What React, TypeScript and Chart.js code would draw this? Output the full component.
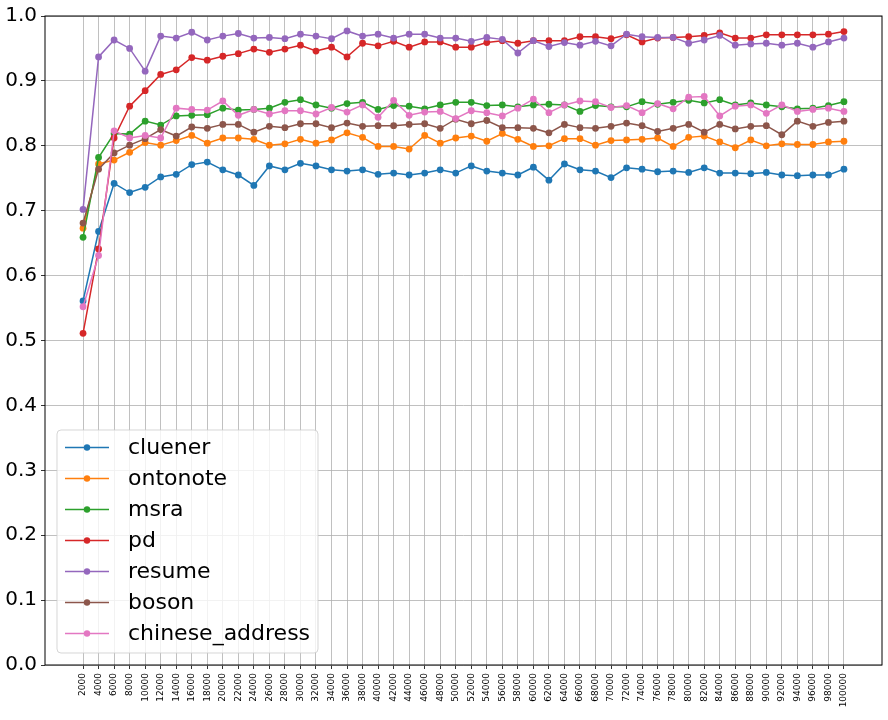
import { Chart, registerables, type Plugin } from 'chart.js'
import { useEffect, useRef } from 'react'

Chart.register(...registerables)

const steps = [
  2000, 4000, 6000, 8000, 10000, 12000, 14000, 16000, 18000, 20000, 22000, 24000, 26000, 28000, 30000, 32000, 34000,
  36000, 38000, 40000, 42000, 44000, 46000, 48000, 50000, 52000, 54000, 56000, 58000, 60000, 62000, 64000, 66000,
  68000, 70000, 72000, 74000, 76000, 78000, 80000, 82000, 84000, 86000, 88000, 90000, 92000, 94000, 96000, 98000,
  100000,
]

const yTicks = [0, 0.1, 0.2, 0.3, 0.4, 0.5, 0.6, 0.7, 0.8, 0.9, 1.0]

const cluener = [
  0.561, 0.668, 0.742, 0.728, 0.736, 0.752, 0.756, 0.771, 0.775, 0.763, 0.755, 0.739, 0.769, 0.763, 0.773, 0.769, 0.763,
  0.761, 0.763, 0.756, 0.758, 0.755, 0.758, 0.763, 0.758, 0.769, 0.761, 0.758, 0.755, 0.767, 0.747, 0.772, 0.763, 0.761,
  0.751, 0.766, 0.764, 0.76, 0.761, 0.759, 0.766, 0.758, 0.758, 0.757, 0.759, 0.755, 0.754, 0.755, 0.755, 0.764,
]
const ontonote = [
  0.673, 0.772, 0.778, 0.79, 0.805, 0.801, 0.808, 0.816, 0.804, 0.812, 0.812, 0.81, 0.801, 0.803, 0.81, 0.804, 0.809,
  0.82, 0.813, 0.799, 0.799, 0.795, 0.816, 0.804, 0.812, 0.815, 0.807, 0.819, 0.81, 0.799, 0.8, 0.811, 0.811, 0.801,
  0.808, 0.809, 0.81, 0.812, 0.799, 0.813, 0.815, 0.806, 0.797, 0.809, 0.8, 0.803, 0.802, 0.802, 0.806, 0.807,
]
const msra = [
  0.659, 0.782, 0.819, 0.818, 0.838, 0.832, 0.846, 0.847, 0.848, 0.858, 0.855, 0.856, 0.858, 0.867, 0.871, 0.863, 0.858,
  0.865, 0.867, 0.856, 0.862, 0.861, 0.857, 0.863, 0.867, 0.867, 0.862, 0.863, 0.86, 0.863, 0.864, 0.863, 0.853, 0.862,
  0.86, 0.86, 0.868, 0.864, 0.867, 0.87, 0.866, 0.871, 0.863, 0.866, 0.863, 0.86, 0.857, 0.858, 0.862, 0.868,
]
const pd = [
  0.511, 0.641, 0.812, 0.861, 0.885, 0.91, 0.917, 0.936, 0.932, 0.938, 0.942, 0.949, 0.944, 0.949, 0.955, 0.946, 0.952,
  0.937, 0.958, 0.954, 0.961, 0.952, 0.96, 0.96, 0.952, 0.952, 0.959, 0.962, 0.958, 0.962, 0.962, 0.962, 0.968, 0.968,
  0.965, 0.971, 0.96, 0.966, 0.967, 0.968, 0.97, 0.974, 0.966, 0.966, 0.971, 0.971, 0.971, 0.971, 0.972, 0.976,
]
const resume = [
  0.702, 0.937, 0.963, 0.95, 0.915, 0.969, 0.966, 0.975, 0.963, 0.969, 0.973, 0.966, 0.967, 0.965, 0.972, 0.969, 0.965,
  0.977, 0.969, 0.972, 0.966, 0.972, 0.972, 0.966, 0.966, 0.961, 0.967, 0.964, 0.943, 0.962, 0.953, 0.959, 0.955, 0.961,
  0.954, 0.972, 0.968, 0.967, 0.967, 0.958, 0.963, 0.97, 0.955, 0.957, 0.958, 0.955, 0.958, 0.952, 0.96, 0.966,
]
const boson = [
  0.681, 0.764, 0.789, 0.801, 0.811, 0.825, 0.815, 0.829, 0.827, 0.833, 0.833, 0.821, 0.83, 0.828, 0.834, 0.834, 0.828,
  0.835, 0.83, 0.831, 0.831, 0.833, 0.834, 0.827, 0.841, 0.834, 0.839, 0.828, 0.828, 0.827, 0.82, 0.833, 0.828, 0.827,
  0.83, 0.835, 0.831, 0.822, 0.827, 0.833, 0.821, 0.833, 0.826, 0.83, 0.831, 0.817, 0.838, 0.83, 0.836, 0.838,
]
const chineseAddress = [
  0.552, 0.631, 0.823, 0.812, 0.816, 0.812, 0.858, 0.856, 0.855, 0.869, 0.847, 0.856, 0.849, 0.854, 0.854, 0.849, 0.859,
  0.852, 0.863, 0.844, 0.87, 0.847, 0.852, 0.853, 0.842, 0.854, 0.851, 0.846, 0.858, 0.872, 0.851, 0.863, 0.869, 0.868,
  0.859, 0.862, 0.851, 0.865, 0.857, 0.875, 0.876, 0.846, 0.861, 0.863, 0.85, 0.863, 0.853, 0.856, 0.858, 0.853,
]

const seriesNames = ['cluener', 'ontonote', 'msra', 'pd', 'resume', 'boson', 'chinese_address']
const seriesValues = [cluener, ontonote, msra, pd, resume, boson, chineseAddress]
const seriesColors = ['#1f77b4', '#ff7f0e', '#2ca02c', '#d62728', '#9467bd', '#8c564b', '#e377c2']

const FONT = 'DejaVu Sans'

// matplotlib-style frame + legend sitting inside the axes
const framePlugin: Plugin<'line'> = {
  id: 'mplFrame',
  afterDatasetsDraw(chart) {
    const { ctx, chartArea } = chart
    ctx.save()
    ctx.strokeStyle = '#000'
    ctx.lineWidth = 1
    ctx.strokeRect(chartArea.left, chartArea.top, chartArea.right - chartArea.left, chartArea.bottom - chartArea.top)
    ctx.restore()
  },
  afterDraw(chart) {
    const { ctx, chartArea } = chart
    const x0 = chartArea.left + 12
    const w = 261
    const h = 223
    const y0 = chartArea.bottom - 12 - h
    ctx.save()
    ctx.beginPath()
    ctx.roundRect(x0, y0, w, h, 4)
    ctx.fillStyle = 'rgba(255,255,255,0.8)'
    ctx.fill()
    ctx.strokeStyle = 'rgba(204,204,204,0.8)'
    ctx.lineWidth = 1
    ctx.stroke()
    ctx.font = `22px "${FONT}"`
    ctx.textBaseline = 'middle'
    ctx.textAlign = 'left'
    seriesNames.forEach((name, i) => {
      const y = y0 + 17.5 + i * 31
      ctx.strokeStyle = seriesColors[i]
      ctx.lineWidth = 1.5
      ctx.beginPath()
      ctx.moveTo(x0 + 8, y)
      ctx.lineTo(x0 + 52, y)
      ctx.stroke()
      ctx.fillStyle = seriesColors[i]
      ctx.beginPath()
      ctx.arc(x0 + 30, y, 3.2, 0, Math.PI * 2)
      ctx.fill()
      ctx.fillStyle = '#000'
      ctx.fillText(name, x0 + 71, y + 1)
    })
    ctx.restore()
  },
}

export default function App() {
  const canvasRef = useRef<HTMLCanvasElement | null>(null)

  useEffect(() => {
    const canvas = canvasRef.current
    if (!canvas) {
      return
    }

    const chart = new Chart(canvas, {
      type: 'line',
      data: {
        datasets: seriesNames.map((name, i) => ({
          label: name,
          data: steps.map((x, j) => ({ x, y: seriesValues[i][j] })),
          borderColor: seriesColors[i],
          backgroundColor: seriesColors[i],
          pointBackgroundColor: seriesColors[i],
          pointBorderWidth: 0,
          pointRadius: 3.4,
          borderWidth: 1.5,
          tension: 0,
          order: seriesNames.length - 1 - i,
        })),
      },
      plugins: [framePlugin],
      options: {
        animation: false,
        responsive: false,
        layout: { padding: { top: 13, right: 6, left: 0, bottom: 0 } },
        plugins: {
          legend: { display: false },
          tooltip: { enabled: false },
        },
        scales: {
          x: {
            type: 'linear',
            min: 2000 - 4900,
            max: 100000 + 4900,
            afterBuildTicks: (scale) => {
              scale.ticks = steps.map((v) => ({ value: v }))
            },
            afterFit: (scale) => {
              scale.height = 55
            },
            ticks: {
              autoSkip: false,
              minRotation: 90,
              maxRotation: 90,
              color: '#000',
              padding: 4,
              font: { family: FONT, size: 9 },
              callback: (v) => String(v),
            },
            grid: {
              color: '#b0b0b0',
              lineWidth: 0.8,
              tickColor: '#000',
              tickLength: 4,
              tickWidth: 0.8,
            },
            border: { display: false },
          },
          y: {
            min: 0,
            max: 1,
            afterBuildTicks: (scale) => {
              scale.ticks = yTicks.map((v) => ({ value: v }))
            },
            afterFit: (scale) => {
              scale.width = 45
            },
            ticks: {
              color: '#000',
              padding: 4,
              font: { family: FONT, size: 20 },
              callback: (v) => Number(v).toFixed(1),
            },
            grid: {
              color: '#b0b0b0',
              lineWidth: 0.8,
              tickColor: '#000',
              tickLength: 4,
              tickWidth: 0.8,
            },
            border: { display: false },
          },
        },
      },
    })

    return () => {
      chart.destroy()
    }
  }, [])

  return (
    <div style={{ position: 'fixed', left: 0, top: 0, width: 888, height: 720, background: '#fff' }}>
      <canvas ref={canvasRef} width={888} height={720} />
    </div>
  )
}
